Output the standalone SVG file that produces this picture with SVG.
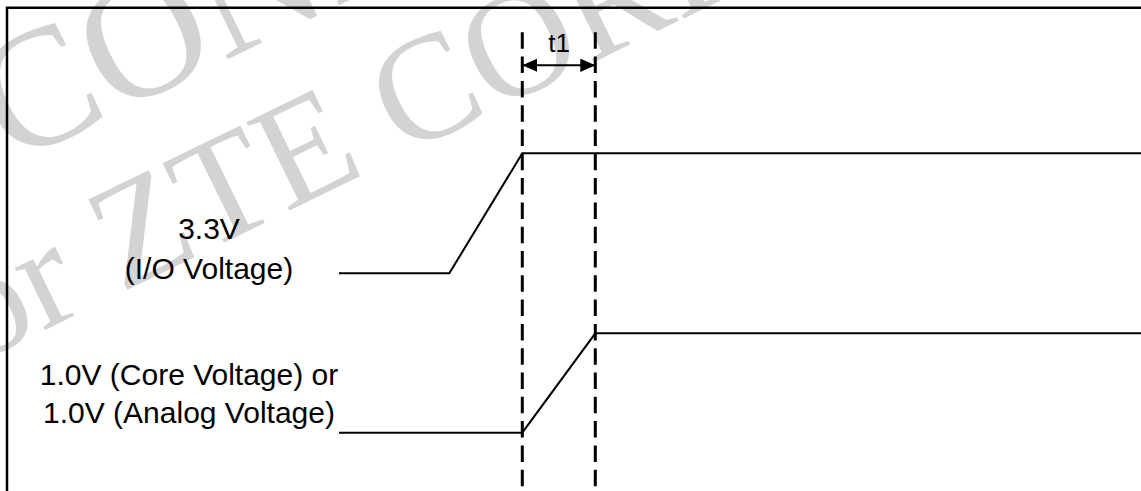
<svg xmlns="http://www.w3.org/2000/svg" width="1141" height="491" viewBox="0 0 1141 491">
  <style>
    .wm { font-family: "Liberation Serif", "Times New Roman", serif; fill: #d3d3d3; }
    .lbl { font-family: "Liberation Sans", Arial, sans-serif; font-size: 30px; fill: #000; }
    .sig { fill: none; stroke: #000; stroke-width: 2; stroke-linejoin: miter; }
    .guide { fill: none; stroke: #000; stroke-width: 3; stroke-dasharray: 16.5 7.8; }
    .frame { fill: none; stroke: #000; stroke-width: 2.5; }
    .dim { fill: none; stroke: #000; stroke-width: 2; }
  </style>
  <defs>
    <marker id="ah" markerUnits="userSpaceOnUse" markerWidth="16" markerHeight="14" refX="15" refY="6.7" orient="auto-start-reverse">
      <path d="M0,0 L15,6.7 L0,13.4 Z" fill="#000"/>
    </marker>
  </defs>
  <rect x="0" y="0" width="1141" height="491" fill="#fff"/>

  <g id="watermark">
    <text class="wm" font-size="170" transform="translate(11,165) rotate(-26)">CONFIDENTIAL</text>
    <text class="wm" font-size="150" transform="translate(-70,386) rotate(-26)">for ZTE CORP</text>
  </g>

  <g id="frame">
    <path class="frame" d="M7,491 V7.7 H1141"/>
  </g>

  <g id="signal-3v3">
    <path class="sig" d="M339,273.3 H449.3 L522.3,153.3 H1141"/>
    <text class="lbl" x="209" y="238.5" text-anchor="middle">3.3V</text>
    <text class="lbl" x="209" y="278.5" text-anchor="middle">(I/O Voltage)</text>
  </g>

  <g id="signal-1v0">
    <path class="sig" d="M339,432.7 H522.3 L595.3,333.3 H1141"/>
    <text class="lbl" x="189" y="385" text-anchor="middle">1.0V (Core Voltage) or</text>
    <text class="lbl" x="189" y="423" text-anchor="middle">1.0V (Analog Voltage)</text>
  </g>

  <g id="connectors">
    <line class="guide" x1="522.3" y1="32.3" x2="522.3" y2="491"/>
    <line class="guide" x1="595.3" y1="32.3" x2="595.3" y2="491"/>
    <line class="dim" x1="522.3" y1="65.3" x2="595.3" y2="65.3" marker-start="url(#ah)" marker-end="url(#ah)"/>
  </g>

  <g id="t1-label">
    <text class="lbl" x="559" y="51.5" text-anchor="middle" style="font-size:26px">t1</text>
  </g>
</svg>
